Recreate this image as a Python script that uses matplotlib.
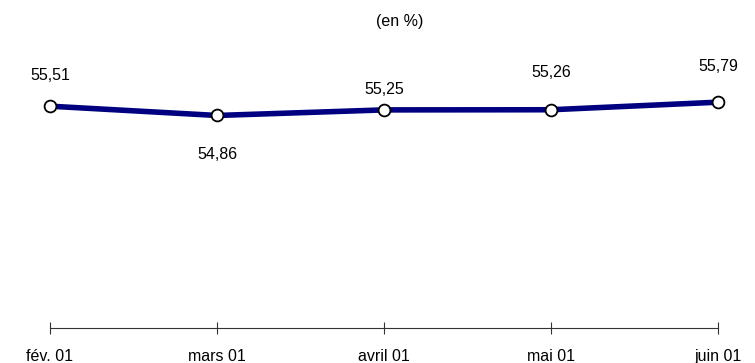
import matplotlib.pyplot as plt

plt.rcParams["font.family"] = ["Liberation Sans", "DejaVu Sans"]

mois = ["fév. 01", "mars 01", "avril 01", "mai 01", "juin 01"]
taux = [55.51, 54.86, 55.25, 55.26, 55.79]
# décalage vertical des étiquettes (points)
decalage = [22, -28, 15, 27, 26]

fig = plt.figure(figsize=(7.55, 3.63), dpi=100)
ax = fig.add_axes([0.0662, 0.0964, 0.885, 0.788])

x = range(len(mois))
ax.plot(x, taux, color="#000080", linewidth=4, marker="o", markersize=8.5,
        markerfacecolor="white", markeredgecolor="black", markeredgewidth=1.3,
        solid_capstyle="butt", zorder=3, clip_on=False)

for i, v in enumerate(taux):
    ax.annotate(f"{v:.2f}".replace(".", ","), (i, v), xytext=(0, decalage[i]),
                textcoords="offset points", ha="center", va="center", fontsize=11.5)

ax.set_xlim(0, len(mois) - 1)
ax.set_ylim(40, 60)
ax.set_xticks(list(x))
ax.set_xticklabels(mois, fontsize=11.5)
ax.tick_params(axis="x", direction="inout", length=8, width=0.8, pad=11, color="#333333")
ax.set_yticks([])
for s in ["top", "left", "right"]:
    ax.spines[s].set_visible(False)
ax.spines["bottom"].set_color("#333333")
ax.spines["bottom"].set_linewidth(0.8)

fig.text(0.53, 0.94, "(en %)", ha="center", va="center", fontsize=11.5)

fig.savefig("out.png", dpi=100)
